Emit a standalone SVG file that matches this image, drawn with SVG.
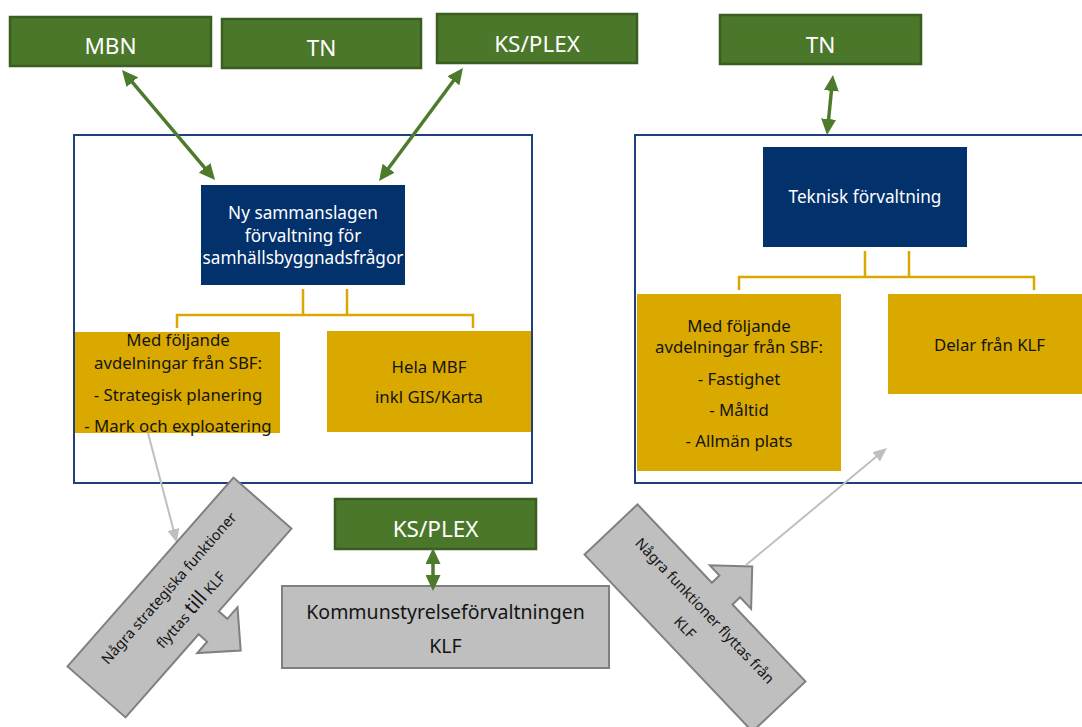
<svg xmlns="http://www.w3.org/2000/svg" width="1082" height="727" viewBox="0 0 1082 727">
  <style>
    .txt { font-family: "Segoe UI", "Noto Sans", "Open Sans", sans-serif; }
    .green { fill: #4B772B; stroke: #3A5E20; stroke-width: 2.5; }
    .gtxt { fill: #FFFFFF; font-size: 22.5px; text-anchor: middle; }
    .navy { fill: #03316C; }
    .ntxt { fill: #FFFFFF; font-size: 17.2px; text-anchor: middle; }
    .yellow { fill: #DAA900; }
    .ytxt { fill: #141414; font-size: 16.8px; text-anchor: middle; }
    .frame { fill: #FFFFFF; stroke: #1F3F7F; stroke-width: 2; }
    .grey { fill: #BFBFBF; stroke: #808080; stroke-width: 2; }
    .gytxt { fill: #141414; text-anchor: middle; }
    .garrow { fill: none; stroke: #4E7A2C; stroke-width: 3.5; marker-start: url(#gh); marker-end: url(#gh); }
    .yline { fill: none; stroke: #DAA900; stroke-width: 2.5; }
    .thin { fill: none; stroke: #BFBFBF; stroke-width: 2; marker-end: url(#th); }
  </style>
  <defs>
    <marker id="gh" markerUnits="userSpaceOnUse" markerWidth="16" markerHeight="15" refX="2" refY="7.5" orient="auto-start-reverse">
      <path d="M0,0 L16,7.5 L0,15 Z" fill="#4E7A2C"/>
    </marker>
    <marker id="th" markerUnits="userSpaceOnUse" markerWidth="14" markerHeight="12" refX="2" refY="6" orient="auto">
      <path d="M0,0 L14,6 L0,12 Z" fill="#BFBFBF"/>
    </marker>
  </defs>
  <rect width="1082" height="727" fill="#FFFFFF"/>

  <g id="frame-left"><rect class="frame" x="74" y="135" width="458" height="348"/></g>
  <g id="frame-right"><rect class="frame" x="635" y="135" width="460" height="348"/></g>

  <g id="mbn"><rect class="green" x="10" y="17" width="201" height="49"/><text class="txt gtxt" x="110.5" y="54">MBN</text></g>
  <g id="tn-left"><rect class="green" x="222" y="19" width="199" height="49"/><text class="txt gtxt" x="321.5" y="56">TN</text></g>
  <g id="ksplex-top"><rect class="green" x="437" y="14" width="200" height="49"/><text class="txt gtxt" x="537" y="52">KS/PLEX</text></g>
  <g id="tn-right"><rect class="green" x="720" y="15" width="201" height="49"/><text class="txt gtxt" x="820.5" y="53">TN</text></g>
  <g id="ksplex-bottom"><rect class="green" x="335" y="499" width="201" height="50"/><text class="txt gtxt" x="435.5" y="537">KS/PLEX</text></g>

  <g id="ny-forvaltning">
    <rect class="navy" x="201" y="185" width="204" height="100"/>
    <text class="txt ntxt" x="303" y="219">Ny sammanslagen</text>
    <text class="txt ntxt" x="303" y="241.5">förvaltning för</text>
    <text class="txt ntxt" x="303" y="264">samhällsbyggnadsfrågor</text>
  </g>
  <g id="teknisk-forvaltning">
    <rect class="navy" x="763" y="147" width="204" height="100"/>
    <text class="txt ntxt" x="865" y="203">Teknisk förvaltning</text>
  </g>

  <g id="sbf-left">
    <rect class="yellow" x="75" y="332" width="205" height="101"/>
    <text class="txt ytxt" x="178" y="346">Med följande</text>
    <text class="txt ytxt" x="178" y="369">avdelningar från SBF:</text>
    <text class="txt ytxt" x="178" y="401">- Strategisk planering</text>
    <text class="txt ytxt" x="178" y="432">- Mark och exploatering</text>
  </g>
  <g id="hela-mbf">
    <rect class="yellow" x="327" y="331" width="204" height="101"/>
    <text class="txt ytxt" x="429" y="373">Hela MBF</text>
    <text class="txt ytxt" x="429" y="403">inkl GIS/Karta</text>
  </g>
  <g id="sbf-right">
    <rect class="yellow" x="637" y="294" width="204" height="177"/>
    <text class="txt ytxt" x="739" y="332">Med följande</text>
    <text class="txt ytxt" x="739" y="353">avdelningar från SBF:</text>
    <text class="txt ytxt" x="739" y="385">- Fastighet</text>
    <text class="txt ytxt" x="739" y="416">- Måltid</text>
    <text class="txt ytxt" x="739" y="447">- Allmän plats</text>
  </g>
  <g id="delar-klf">
    <rect class="yellow" x="888" y="294" width="204" height="100"/>
    <text class="txt ytxt" x="989.5" y="351">Delar från KLF</text>
  </g>

  <g id="klf">
    <rect class="grey" x="282" y="586" width="327" height="82"/>
    <text class="txt gytxt" x="445.5" y="619" font-size="19.5">Kommunstyrelseförvaltningen</text>
    <text class="txt gytxt" x="445.5" y="653" font-size="19.5">KLF</text>
  </g>

  <g id="connectors">
    <path class="yline" d="M303,289 V315 M347,289 V315 M177,328 V315 H473 V328"/>
    <path class="yline" d="M865,251 V277 M909,251 V277 M739,290 V277 H1034 V290"/>
    <line class="garrow" x1="131" y1="80.7" x2="206" y2="169.3"/>
    <line class="garrow" x1="454.6" y1="79.2" x2="387.4" y2="169.8"/>
    <line class="garrow" x1="831.6" y1="88.9" x2="828.4" y2="121.1"/>
    <line class="garrow" x1="433" y1="562" x2="433" y2="577"/>
    <line class="thin" x1="148" y1="433" x2="173.9" y2="531.4"/>
  </g>

  <g id="arrow-till-klf" transform="translate(179.5,597.5) rotate(-48.7)">
    <path class="grey" d="M-125.7,-38.6 L125.7,-38.6 L125.7,38.6 L15.5,38.6 L15.5,50 L31,50 L0.5,81 L-30,50 L-15,50 L-15,38.6 L-125.7,38.6 Z"/>
    <text class="txt gytxt" x="0" y="-9" font-size="14.5">Några strategiska funktioner</text>
    <text class="txt gytxt" x="-2" y="22" font-size="14.5">flyttas <tspan font-size="20">till</tspan> KLF</text>
  </g>

  <g id="arrow-fran-klf" transform="translate(695,618) rotate(46.5)">
    <path class="grey" d="M-122,36.5 L122,36.5 L122,-36.5 L16,-36.5 L16,-47 L32,-47 L2,-77 L-28,-47 L-14,-47 L-14,-36.5 L-122,-36.5 Z"/>
    <text class="txt gytxt" x="1.5" y="-7" font-size="14.5">Några funktioner flyttas från</text>
    <text class="txt gytxt" x="0" y="19" font-size="14.5">KLF</text>
  </g>

  <g id="connectors-top">
    <line class="thin" x1="746" y1="565" x2="877.7" y2="455.6"/>
  </g>
</svg>
